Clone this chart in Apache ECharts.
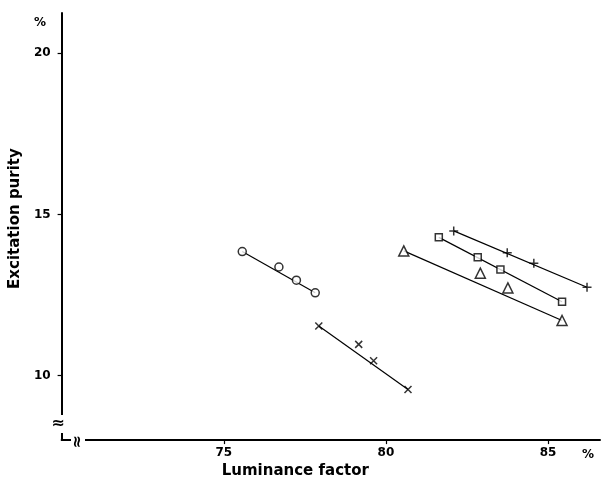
<!DOCTYPE html>
<html>
<head>
<meta charset="utf-8">
<script src="https://cdn.jsdelivr.net/npm/echarts@6/dist/echarts.min.js"></script>
<style>
  html, body { margin: 0; padding: 0; background: #fff; }
  #chart { width: 601px; height: 484px; }
</style>
</head>
<body>
<div id="chart"></div>
<script>
// tick labels
const xTicks = [75, 80, 85]
const yTicks = [10, 15, 20]

// measured points [luminance factor %, excitation purity %]
const circles = [[75.57, 13.85], [76.70, 13.37], [77.24, 12.96], [77.82, 12.57]]
const crosses = [[77.93, 11.54], [79.16, 10.97], [79.62, 10.46], [80.68, 9.57]]
const triangles = [[80.55, 13.87], [82.91, 13.18], [83.76, 12.72], [85.43, 11.71]]
const squares = [[81.63, 14.29], [82.83, 13.67], [83.53, 13.29], [85.43, 12.29]]
const pluses = [[82.09, 14.49], [83.74, 13.81], [84.56, 13.49], [86.20, 12.74]]

const font = 'DejaVu Sans'
const myChart = echarts.init(document.getElementById('chart'))

// fitted line through first and last point, then the markers on top
function group(points, symbol, size) {
  return [
    {
      type: 'line',
      data: [points[0], points[points.length - 1]],
      showSymbol: false,
      silent: true,
      lineStyle: { color: '#000', width: 1.2 },
      z: 2
    },
    {
      type: 'scatter',
      data: points,
      symbol: symbol,
      symbolSize: size,
      itemStyle: { color: '#fff', borderColor: '#000', borderWidth: 1.5 },
      z: 3
    }
  ]
}

const option = {
  animation: false,
  backgroundColor: '#fff',
  grid: { left: 61, right: 1, top: 13, bottom: 42 },
  xAxis: {
    type: 'value',
    min: 70,
    max: 86.6,
    name: 'Luminance factor',
    nameLocation: 'middle',
    nameGap: 17,
    nameTextStyle: { fontFamily: font, fontWeight: 'bold', fontSize: 15, color: '#000', padding: [0, 71, 0, 0] },
    axisLine: { lineStyle: { color: '#000', width: 2 } },
    axisTick: { inside: false, length: 4, customValues: xTicks, lineStyle: { color: '#000', width: 1.2 } },
    axisLabel: { customValues: xTicks, margin: 7, fontFamily: font, fontWeight: 'bold', fontSize: 12, color: '#000' },
    splitLine: { show: false }
  },
  yAxis: {
    type: 'value',
    min: 8,
    max: 21.25,
    name: 'Excitation purity',
    nameLocation: 'middle',
    nameGap: 31,
    nameTextStyle: { fontFamily: font, fontWeight: 'bold', fontSize: 15, color: '#000', padding: [0, 0, 0, 16] },
    axisLine: { lineStyle: { color: '#000', width: 2 } },
    axisTick: { inside: false, length: 4, customValues: yTicks, lineStyle: { color: '#000', width: 1.2 } },
    axisLabel: { customValues: yTicks, margin: 11, fontFamily: font, fontWeight: 'bold', fontSize: 12, color: '#000' },
    splitLine: { show: false }
  },
  graphic: [
    { type: 'text', left: 34, top: 17, style: { text: '%', font: 'bold 12px ' + font, fill: '#000' } },
    { type: 'text', left: 582, top: 449, style: { text: '%', font: 'bold 12px ' + font, fill: '#000' } },
    // axis breaks
    { type: 'rect', shape: { x: 50, y: 415, width: 16, height: 18 }, style: { fill: '#fff' }, z: 10 },
    { type: 'text', x: 58, y: 424, style: { text: '≈', font: 'bold 16px ' + font, fill: '#000', align: 'center', verticalAlign: 'middle' }, z: 11 },
    { type: 'rect', shape: { x: 71, y: 435, width: 14, height: 14 }, style: { fill: '#fff' }, z: 10 },
    { type: 'text', x: 78, y: 442, rotation: Math.PI / 2, style: { text: '≈', font: 'bold 16px ' + font, fill: '#000', align: 'center', verticalAlign: 'middle' }, z: 11 }
  ],
  series: [
    ...group(circles, 'circle', 8),
    ...group(crosses, 'path://M0,0L10,10M10,0L0,10', 7),
    ...group(triangles, 'triangle', 10),
    ...group(squares, 'rect', 7),
    ...group(pluses, 'path://M5,0L5,10M0,5L10,5', 9)
  ]
}

myChart.setOption(option)
</script>
</body>
</html>
